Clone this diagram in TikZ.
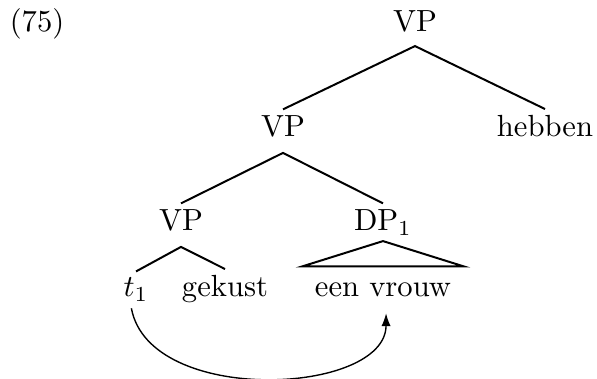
\documentclass[tikz,border=0pt]{standalone}
\usepackage{amsmath}
\usepackage{tikz}
\usetikzlibrary{arrows.meta}
\tikzstyle{word}=[anchor=base,inner sep=2pt]
\tikzstyle{branch}=[line width=0.65pt]
\tikzstyle{move}=[line width=0.45pt,
                  -{Latex[length=4.2pt,width=3pt]}]

\begin{document}
\begin{tikzpicture}[x=0.3268pt,y=-0.3268pt]
    \useasboundingbox (0,0) rectangle (597,379);
    \newcommand{\drop}{5.2pt}
    \node (ex) at (37,32) [word]{(75)};
    \node (vp1) at (415,32) [word]{VP};
    \node (vp2) at (283,137) [word]{VP};
    \node (hebben) at (545,137) [word]{hebben};
    \node (vp3) at (181,231) [word]{VP};
    \node (dp) at (383,231) [word]{DP$_1$};
    \node (t1) at (136,297) [word]{$t_1$};
    \node (gekust) at (225,297) [word]{gekust};
    \node (een) at (383,297) [word]{een vrouw};
    \draw[branch] (vp2.north) -- ([yshift=-4.6pt]vp1.base) -- (hebben.north);
    \draw[branch] (vp3.north) -- ([yshift=-\drop]vp2.base) -- (dp.north);
    \draw[branch] (t1.north) -- ([yshift=-\drop]vp3.base) -- (gekust.north);
    \draw[branch] ([yshift=-3.3pt]dp.base)
        -- ([xshift=-2pt,yshift=3.3pt]een.north west)
        -- ([xshift=2pt,yshift=3.3pt]een.north east) -- cycle;
    \draw[move] ([xshift=-1.5pt]t1.south) .. controls +(18,98) and +(0,82)
        .. ([xshift=1pt,yshift=-3pt]een.south);
\end{tikzpicture}
\end{document}
